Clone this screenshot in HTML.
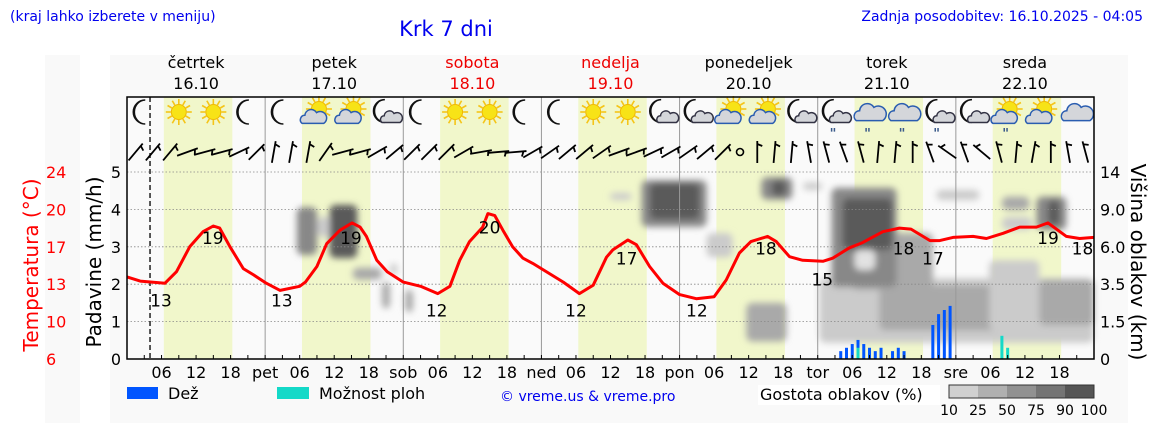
<!DOCTYPE html>
<html><head><meta charset="utf-8">
<style>
html,body{margin:0;padding:0;background:#fff;}
svg{display:block;font-family:"DejaVu Sans","Liberation Sans",sans-serif;}
</style></head>
<body>
<svg id="chart" width="1152" height="443" viewBox="0 0 1152 443">
<defs><filter id="blur" x="-20%" y="-20%" width="140%" height="140%"><feGaussianBlur stdDeviation="3.5"/></filter></defs>
<rect x="45" y="55" width="35" height="368" fill="#f9f9f9"/>
<rect x="110" y="55" width="1018" height="368" fill="#f9f9f9"/>
<text x="10" y="21" font-size="14" fill="#0000ee">(kraj lahko izberete v meniju)</text>
<text x="446" y="36" font-size="21" fill="#0000ee" text-anchor="middle">Krk 7 dni</text>
<text x="1143" y="21" font-size="14" fill="#0000ee" text-anchor="end">Zadnja posodobitev: 16.10.2025 - 04:05</text>
<g id="bg"></g><g id="clouds" filter="url(#blur)"></g><g id="grid"></g><g id="bars"></g><g id="temp"></g><g id="icons"></g><g id="wind"></g><g id="axes"></g>
<text transform="translate(38,265) rotate(-90)" font-size="20" fill="#ff0000" text-anchor="middle">Temperatura (°C)</text>
<text transform="translate(101,262) rotate(-90)" font-size="20" fill="#000" text-anchor="middle">Padavine (mm/h)</text>
<text transform="translate(1131,262) rotate(90)" font-size="20" fill="#000" text-anchor="middle">Višina oblakov (km)</text>
<rect x="127" y="387" width="31" height="12" fill="#0055ff"/>
<text x="168" y="399" font-size="16">Dež</text>
<rect x="277" y="387" width="32" height="12" fill="#14d9c8"/>
<text x="319" y="399" font-size="16">Možnost ploh</text>
<text x="500" y="401" font-size="14" fill="#0000ee">© vreme.us &amp; vreme.pro</text>
<rect x="758" y="385" width="182" height="20" fill="#fff"/>
<text x="760" y="400" font-size="16">Gostota oblakov (%)</text>
<g id="dens"></g>
</svg>
<script>
const hours = [0,2.3,6.6,8.6,10.9,13.2,15,16.1,17.9,20.2,22,24.2,26.6,30,31,33,34.7,37,39.1,40.5,41.6,43.4,45.2,48,51,54,56.1,57.8,59.5,61.8,62.7,63.9,65.3,67,68.8,70.5,75.8,78.6,81,83.3,84.4,87,88.5,90.8,93.1,96,98.9,102,104.1,106.4,108.4,111.3,112.8,115.1,117.4,120.9,122.6,125.5,127.8,131.3,134.2,136.2,139.5,141.2,143.5,147,149.3,152.2,155.1,158,160,163.2,165.5,168];
const temps = [13.9,13.5,13.3,14.4,16.8,18.25,18.8,18.6,16.8,14.7,14.1,13.3,12.6,13.0,13.4,14.9,17.1,18.4,19.1,18.7,17.8,15.5,14.4,13.4,13.0,12.3,13.0,15.5,17.3,18.7,20.0,19.8,18.4,16.8,15.7,15.2,13.4,12.3,13.1,15.8,16.5,17.45,17.0,14.9,13.3,12.2,11.8,12.0,13.6,16.2,17.3,17.8,17.3,15.85,15.5,15.4,15.7,16.7,17.2,18.25,18.6,18.5,17.4,17.4,17.7,17.8,17.6,18.1,18.7,18.7,19.1,17.8,17.6,17.7];
const labelHours = [5.9,14.9,26.9,38.9,53.8,63,78,86.8,99,111,120.8,134.9,140,160,166];
const labelValues = [13,19,13,19,12,20,12,17,12,18,15,18,17,19,18];
const rainHours = [124,125,126,127,128,129,130,131,133,134,135,140,141,142,143];
const rainValues = [0.21,0.3,0.4,0.51,0.4,0.3,0.21,0.3,0.21,0.3,0.21,0.91,1.2,1.31,1.42];
const showerHours = [127,152,153];
const showerValues = [0.3,0.62,0.3];
// cloud blobs: start hour, end hour, low km, high km, density %
const cloudH0 = [120.3,130.7,149.8,158.5,33,29.5,35.2,39.2,44.3,48.3,45.7,83.9,89.4,90.8,100.7,110.2,112,117.4,107.6,125.9,122.4,124.3,126.4,152,152,158,160,140.6];
const cloudH1 = [167.9,151.6,158.5,168,36.5,33,40,44.3,45.7,49.7,47,87.7,100.7,99.5,105.2,115.6,114.5,120.8,114.6,140,133.7,133,130,156.8,157.3,163.2,162,148.1];
const cloudK0 = [0.65,1.15,1.15,1.35,6.8,5.45,5.25,3.8,2.2,2.0,4.1,10.25,7.6,8.2,5.3,10.3,10.8,11.6,0.7,3.2,3.35,5.8,4.45,8.95,7.35,7.35,7.7,10.25];
const cloudK1 = [3.9,3.45,5.1,3.8,8.4,9.3,9.6,4.6,3.65,3.2,4.9,11.2,12.9,12.5,7.1,13.3,12.9,12.6,2.5,7.1,11.9,10.5,5.8,10.7,8.4,10.7,10.25,11.6];
const cloudD = [25,50,25,50,25,75,90,50,50,50,25,25,75,90,25,75,90,25,50,50,75,90,10,50,25,75,90,25];
const windAngles = [40,40,40,70,75,75,65,45, 10,10,10,35,75,75,60,50, 45,45,45,60,80,85,85,60, 55,50,50,55,70,70,65,60, 55,50,45,999,0,5,5,-10, -15,-20,-15,5,5,0,-20,-55, -20,-50,-15,5,10,0,-10,-15];
const iconTypes = ['moon','sun','sun','moon','moon','suncloud','suncloud','mooncloud','moon','sun','sun','moon','moon','sun','sun','mooncloud','mooncloud','suncloud','suncloud','mooncloud','mooncloudrain','cloudrain','cloudrain','mooncloudrain','mooncloud','suncloudrain','suncloud','cloud'];
const dayNames = ['četrtek','petek','sobota','nedelja','ponedeljek','torek','sreda'];
const dayDates = ['16.10','17.10','18.10','19.10','20.10','21.10','22.10'];
const dayShort = ['','pet','sob','ned','pon','tor','sre'];
const precipTicks = [0,1,2,3,4,5];
const tempTicks = [24,20,17,13,10,6];
const kmTicks = ['0','1.5','3.5','6.0','9.0','14'];
const kmLevels = [0,1.5,3.5,6,9,14];
const densLabels = ['10','25','50','75','90','100'];

const NS='http://www.w3.org/2000/svg';
const X0=127,X1=1094,YT=97,YB=359,HPX=(X1-X0)/168;
const X=h=>X0+h*HPX;
const YP=u=>YB-u*37.4;
const YTmp=t=>172+(24-t)*(187/18);
const YK=k=>{for(let i=1;i<kmLevels.length;i++){if(k<=kmLevels[i]||i==kmLevels.length-1){return YP(i-1+(k-kmLevels[i-1])/(kmLevels[i]-kmLevels[i-1]));}}};
const dcol=d=>d<=10?'#e2e2e2':d<=25?'#cbcbcb':d<=50?'#a9a9a9':d<=75?'#888888':'#5a5a5a';
function el(p,tag,attrs,txt){const e=document.createElementNS(NS,tag);for(const k in attrs)e.setAttribute(k,attrs[k]);if(txt!==undefined)e.textContent=txt;document.getElementById(p).appendChild(e);return e;}

el('bg','rect',{x:X0,y:YT,width:X1-X0,height:YB-YT,fill:'#fafafa'});
for(let d=0;d<7;d++){
  const b=el('bg','rect',{x:X(d*24+6.4),y:YT,width:X(d*24+18.3)-X(d*24+6.4),height:YB-YT,fill:'#f1f7cb'});
  
  
  const n=el('axes','text',{x:X(d*24+12),y:68,'font-size':16,'text-anchor':'middle',fill:(d==2||d==3)?'#ee0000':'#000'},dayNames[d]);
  
  
  const t=el('axes','text',{x:X(d*24+12),y:89,'font-size':16,'text-anchor':'middle',fill:(d==2||d==3)?'#ee0000':'#000'},dayDates[d]);
  
  
}
for(let i=0;i<cloudD.length;i++){
  const r=el('clouds','rect',{x:X(cloudH0[i]),y:YK(cloudK1[i]),width:X(cloudH1[i])-X(cloudH0[i]),height:YK(cloudK0[i])-YK(cloudK1[i]),fill:dcol(cloudD[i]),rx:6});
  
  
}
for(let u=1;u<=5;u++){el('grid','line',{x1:X0,x2:X1,y1:YP(u),y2:YP(u),stroke:'#888','stroke-width':0.8,'stroke-dasharray':'1.5,2'});}
for(let d=1;d<7;d++){el('grid','line',{x1:X(d*24),x2:X(d*24),y1:YT,y2:YB,stroke:'#999','stroke-width':1});}
const nl=el('grid','line',{x1:X(4),x2:X(4),y1:YT,y2:YB,stroke:'#222','stroke-width':1.5,'stroke-dasharray':'5,3'});


for(let i=0;i<rainHours.length;i++){
  const b=el('bars','rect',{x:X(rainHours[i])-1.5,y:YP(rainValues[i]),width:3,height:YB-YP(rainValues[i]),fill:'#0055ff'});
  
  
}
for(let i=0;i<showerHours.length;i++){
  const b=el('bars','rect',{x:X(showerHours[i])-1.5,y:YP(showerValues[i]),width:3,height:YB-YP(showerValues[i]),fill:'#14d9c8'});
  
  
}
let dstr='';
for(let i=0;i<hours.length;i++){dstr+=(i?'L':'M')+X(hours[i]).toFixed(1)+','+YTmp(temps[i]).toFixed(1);}
const tl=el('temp','path',{d:dstr,fill:'none',stroke:'#ff0000','stroke-width':3,'stroke-linejoin':'round'});


for(let i=0;i<labelHours.length;i++){
  const t=el('temp','text',{x:X(labelHours[i]),y:YTmp(labelValues[i])+20,'font-size':17,'text-anchor':'middle'},String(labelValues[i]));
  
  
}
function sun(cx,cy){for(let a=0;a<12;a++){const r=a*Math.PI/6;el('icons','line',{x1:cx+Math.cos(r)*8,y1:cy+Math.sin(r)*8,x2:cx+Math.cos(r)*13,y2:cy+Math.sin(r)*13,stroke:'#f5c518','stroke-width':1.6});}el('icons','circle',{cx:cx,cy:cy,r:7.5,fill:'#f7e317',stroke:'#f0b800','stroke-width':1});}
function moon(cx,cy,s){s=s||1;el('icons','path',{d:`M${cx+3*s},${cy-12*s}A${12*s},${12*s} 0 1 0 ${cx+3*s},${cy+12*s}A${10*s},${11*s} 0 0 1 ${cx+3*s},${cy-12*s}Z`,fill:'#fff',stroke:'#111','stroke-width':1.5});}
function cloud(cx,cy,s,stroke){s=s||1;el('icons','path',{d:`M${cx-12*s},${cy+6*s}A${5*s},${5*s} 0 0 1 ${cx-9*s},${cy-3*s}A${7*s},${7*s} 0 0 1 ${cx+4*s},${cy-6*s}A${6*s},${6*s} 0 0 1 ${cx+12*s},${cy+6*s}Z`,fill:'#d4d6da',stroke:stroke,'stroke-width':1.5});}
function rain(cx,cy){el('icons','text',{x:cx,y:cy,'font-size':13,'text-anchor':'middle',fill:'#3a5a8a','font-weight':'bold'},'"');}
for(let i=0;i<iconTypes.length;i++){
  const cx=X(3+6*i),cy=112,t=iconTypes[i];
  if(t=='sun')sun(cx,cy);
  if(t=='moon')moon(cx-2,cy);
  if(t.startsWith('suncloud')){sun(cx+2,cy-3);cloud(cx-4,cy+6,0.9,'#2a5db0');}
  if(t.startsWith('mooncloud')){moon(cx-4,cy-1,0.95);cloud(cx+5,cy+6,0.75,'#334');}
  if(t.startsWith('cloud')){cloud(cx,cy+2,1.1,'#2a5db0');}
  if(t.endsWith('rain'))rain(cx-2,cy+26);
}
for(let i=0;i<windAngles.length;i++){
  const cx=X(3*i+1.5),cy=152,a=windAngles[i];
  if(a===999){const c=el('wind','circle',{cx:cx,cy:cy,r:3.5,fill:'none',stroke:'#000','stroke-width':1.6});continue;}
  const g=el('wind','g',{transform:`translate(${cx},${cy}) rotate(${a})`});
  
  
  const l=document.createElementNS(NS,'path');l.setAttribute('d','M0,11L0,-11M0,-8L5,-6');l.setAttribute('stroke','#000');l.setAttribute('stroke-width','1.8');l.setAttribute('fill','none');g.appendChild(l);
}
el('axes','rect',{x:X0,y:YT,width:X1-X0,height:YB-YT,fill:'none',stroke:'#000','stroke-width':1.5});
for(let h=3;h<168;h+=3){el('axes','line',{x1:X(h),x2:X(h),y1:YB,y2:YB-4,stroke:'#000','stroke-width':1});}
for(let d=0;d<7;d++){
  for(const hh of [6,12,18]){const t=el('axes','text',{x:X(d*24+hh),y:378,'font-size':16,'text-anchor':'middle'},String(hh).padStart(2,'0'));}
  if(d>0){const t=el('axes','text',{x:X(d*24),y:378,'font-size':16,'text-anchor':'middle'},dayShort[d]);}
}
for(let i=0;i<precipTicks.length;i++){
  const t=el('axes','text',{x:121,y:YP(precipTicks[i])+6,'font-size':16,'text-anchor':'end'},String(precipTicks[i]));
  
  
  const r=el('axes','text',{x:1100,y:YP(i)+6,'font-size':16},kmTicks[i]);
  
  
}
for(let i=0;i<tempTicks.length;i++){
  const t=el('axes','text',{x:46,y:YP(5-i)+6,'font-size':16,fill:'#ff0000'},String(tempTicks[i]));
  
  
}
for(let i=0;i<5;i++){const r=el('dens','rect',{x:949+i*29,y:385,width:29,height:13,fill:['#d0d0d0','#b0b0b0','#919191','#747474','#555555'][i]});}
el('dens','rect',{x:949,y:385,width:145,height:13,fill:'none',stroke:'#333','stroke-width':1});
for(let i=0;i<6;i++){const t=el('dens','text',{x:949+i*29,y:415,'font-size':14,'text-anchor':'middle'},densLabels[i]);}
</script>
</body></html>
